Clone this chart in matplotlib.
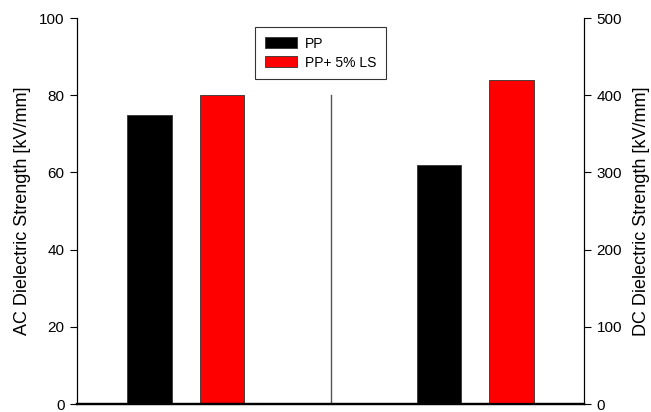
import numpy as np
import matplotlib.pyplot as plt

plt.rcParams['font.family'] = ['Liberation Sans', 'DejaVu Sans']

# donnees
groupes = ['AC', 'DC']
series = ['PP', 'PP+ 5% LS']
couleurs = ['black', 'red']
ac_vals = [75, 80]      # kV/mm, axe gauche
dc_vals = [310, 420]    # kV/mm, axe droit
x_ac = [1, 2]
x_dc = [5, 6]

fig = plt.figure(figsize=(6.51, 4.12), dpi=100)
ax = fig.add_axes([77 / 651, 8 / 412, 507 / 651, 386 / 412])
ax2 = ax.twinx()

largeur = 0.61
barres = []
for i in range(2):
    b = ax.bar(x_ac[i], ac_vals[i], width=largeur, color=couleurs[i],
               edgecolor='#333333', linewidth=0.6, label=series[i])
    barres.append(b)
    ax2.bar(x_dc[i], dc_vals[i], width=largeur, color=couleurs[i],
            edgecolor='#333333', linewidth=0.6)

# ligne de separation
ax.plot([3.5, 3.5], [0, 80], color='#555555', linewidth=1.0)

ax.set_xlim(0, 7)
ax.set_ylim(0, 100)
ax2.set_ylim(0, 500)
ax.set_xticks([])
ax.set_yticks(np.arange(0, 101, 20))
ax2.set_yticks(np.arange(0, 501, 100))

for a in (ax, ax2):
    a.spines['top'].set_visible(False)
    a.spines['left'].set_linewidth(0.8)
    a.spines['right'].set_linewidth(0.8)
    a.spines['bottom'].set_linewidth(1.6)
    a.tick_params(axis='y', direction='out', length=5, width=0.8,
                  labelsize=11, pad=4)

ax.set_ylabel('AC Dielectric Strength [kV/mm]', fontsize=13, labelpad=6)
ax2.set_ylabel('DC Dielectric Strength [kV/mm]', fontsize=13, labelpad=8)

leg = ax.legend(handles=barres, loc='upper left',
                bbox_to_anchor=(0.351, 0.977), fontsize=10, frameon=True,
                fancybox=False, edgecolor='black', handlelength=2.3,
                handleheight=0.85, borderpad=0.7, labelspacing=0.36,
                handletextpad=0.58, borderaxespad=0)
leg.get_frame().set_linewidth(0.8)

fig.savefig('out.png', dpi=100)
